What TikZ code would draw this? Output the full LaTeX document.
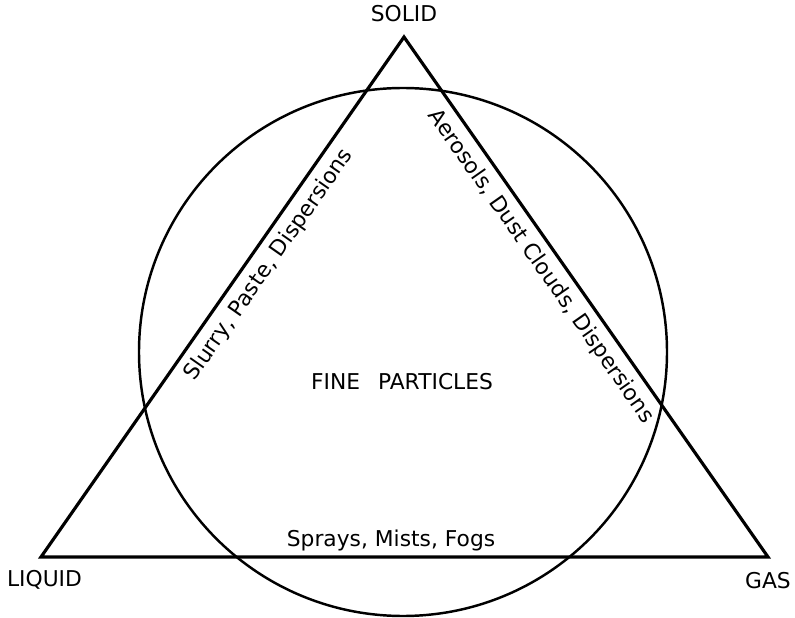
\documentclass[tikz,border=0pt]{standalone}
\usepackage{fontspec}
\setmainfont{DejaVu Sans}
\usetikzlibrary{positioning}
\tikzset{every picture/.append style={thick}}
\tikzset{
  phase/.style={font=\fontsize{12.4}{14}\selectfont, inner sep=0pt},
  sidelabel/.style={phase, anchor=base},
}

\begin{document}
\begin{tikzpicture}[x=0.02cm, y=-0.02cm]
    \useasboundingbox (0,0) rectangle (795,618);

    % Corners of the triangle
    \coordinate (solid)  at (404,37);
    \coordinate (liquid) at (41,557);
    \coordinate (gas)    at (768,557);

    % Triangle
    \draw[line width=1.8pt, line join=miter] (liquid) -- (solid) -- (gas) -- cycle;

    % Circle
    \draw[line width=1.4pt] (403,352) circle[radius=264];

    % Corner labels
    \node[phase, above=0.28cm of solid] (solidlbl) {SOLID};
    \node[phase, below=0.26cm of liquid, xshift=0.07cm] (liquidlbl) {LIQUID};
    \node[phase, below=0.3cm of gas] (gaslbl) {GAS};

    % Side labels
    \node[sidelabel, rotate=55] (slurry) at (274,268.5) {Slurry, Paste, Dispersions};
    \node[sidelabel, rotate=-55] (aerosols) at (536,270) {Aerosols, Dust Clouds, Dispersions};
    \node[sidelabel] (sprays) at (391,546.5) {Sprays, Mists, Fogs};

    % Centre
    \node[phase] (fine) at (402,382) {FINE\hspace{0.36cm}PARTICLES};

\end{tikzpicture}
\end{document}
